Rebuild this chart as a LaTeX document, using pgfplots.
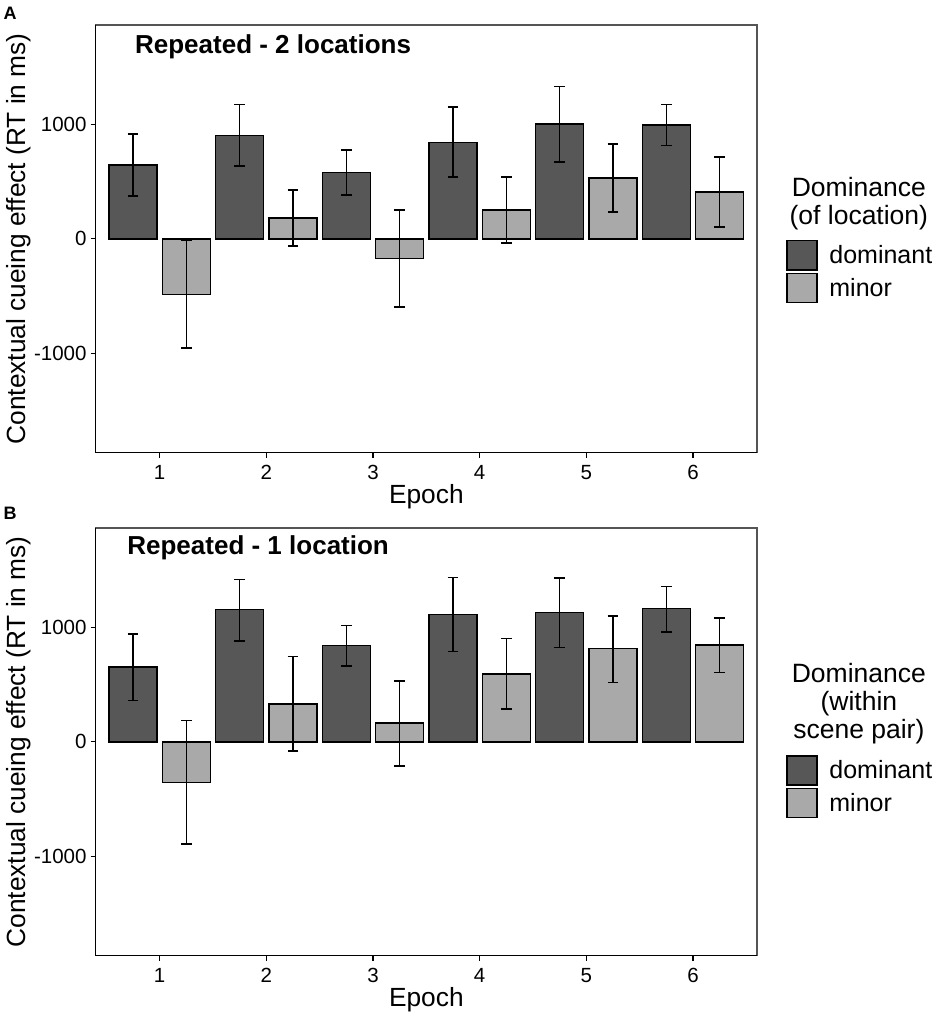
\documentclass[border=0pt]{standalone}
\usepackage{pgfplots}
\pgfplotsset{compat=1.18}
\usepackage{pgfplotstable}
\usepackage{fontspec}
\setmainfont{Liberation Sans}
\definecolor{dom}{HTML}{575757}
\definecolor{mnr}{HTML}{A9A9A9}
\definecolor{framec}{HTML}{555555}

% epoch, mean, error plus, error minus
\pgfplotstableread{
x y ep em
1 647 268 274
2 904 271 268
3 580 196 195
4 845 310 306
5 1003 329 330
6 997 178 181
}\Adom
\pgfplotstableread{
x y ep em
1 -487 475 466
2 184 245 248
3 -172 426 423
4 251 291 286
5 531 297 298
6 408 309 306
}\Amin
\pgfplotstableread{
x y ep em
1 653 288 291
2 1156 265 274
3 841 177 176
4 1115 320 324
5 1129 303 303
6 1165 194 203
}\Bdom
\pgfplotstableread{
x y ep em
1 -353 538 541
2 332 415 414
3 165 367 377
4 594 309 306
5 815 285 294
6 847 238 241
}\Bmin

\tikzset{
  ltitle/.style={anchor=base, inner sep=0pt, font=\fontsize{26.5}{26.5}\selectfont},
  ptitle/.style={anchor=base west, inner sep=0pt, font=\bfseries\fontsize{26}{26}\selectfont},
}

\pgfplotsset{
  every error bar/.append style={line width=1.5pt, black},
  panel/.style={
    width=661.3pt, height=427.7pt, scale only axis,
    anchor=south west,
    xmin=0.4, xmax=6.6, ymin=-1870, ymax=1870,
    enlargelimits=false, clip=false,
    xtick={1,2,3,4,5,6}, xticklabels={1,2,3,4,5,6},
    ytick={-1000,0,1000}, yticklabels={-1000,0,1000},
    tick pos=left, tick align=outside, major tick length=5pt,
    tick style={black, line width=1.2pt},
    axis line style={framec, line width=1.2pt},
    ticklabel style={font=\fontsize{20.5}{20.5}\selectfont, text=black},
    xticklabel style={inner sep=0pt, anchor=north, yshift=-7pt},
    yticklabel style={inner sep=0pt, anchor=east, xshift=-4pt},
    xlabel={Epoch}, ylabel={Contextual cueing effect (RT in ms)},
    every axis x label/.style={at={(axis description cs:0.5,-0.1183)}, anchor=base, inner sep=0pt, font=\fontsize{26.3}{26.3}\selectfont},
    every axis y label/.style={at={(axis description cs:-0.1066,0.5)}, rotate=90, anchor=base, inner sep=0pt, font=\fontsize{26.3}{26.3}\selectfont},
    ybar, bar width=0.45,
    legend cell align=left,
    legend style={anchor=north west, draw=none, fill=none, inner sep=0pt, outer sep=0pt,
      row sep=1.8pt, column sep=11.9pt, font=\fontsize{25}{25}\selectfont,
      nodes={inner sep=0pt}},
    after end axis/.code={\draw[black, line width=1.2pt] (rel axis cs:0,1) -- (rel axis cs:0,0) -- (rel axis cs:1,0);},
  },
  barstyle/.style={draw=black, line width=1.4pt,
    error bars/y dir=both, error bars/y explicit,
    error bars/error bar style={black, line width=1.5pt},
    error bars/error mark options={rotate=90, black, mark size=5.3pt, line width=1.5pt}},
  domkey/.style={legend image code/.code={\draw[fill=dom, draw=black, line width=1.4pt] (0pt,-14.65pt) rectangle (30pt,14.65pt);}},
  minkey/.style={legend image code/.code={\draw[fill=mnr, draw=black, line width=1.4pt] (0pt,-14.65pt) rectangle (30pt,14.65pt);}},
}

\begin{document}
\begin{tikzpicture}
\useasboundingbox (-95.7pt,-564.3pt) rectangle (840.3pt,452.7pt);

% Panel A
\begin{axis}[panel, at={(0pt,0pt)},
  legend style={at={(axis description cs:1.0440,0.4971)}}]
\addplot[barstyle, fill=dom, bar shift=-0.25, domkey]
  table[x=x, y=y, y error plus=ep, y error minus=em] {\Adom};
\addlegendentry{dominant}
\addplot[barstyle, fill=mnr, bar shift=0.25, minkey]
  table[x=x, y=y, y error plus=ep, y error minus=em] {\Amin};
\addlegendentry{minor}
\node[ptitle] at (axis description cs:0.0593,0.9338) {Repeated - 2 locations};
\node[ltitle] at (axis description cs:1.1540,0.5995) {Dominance};
\node[ltitle] at (axis description cs:1.1540,0.5340) {(of location)};
\end{axis}

% Panel B
\begin{axis}[panel, at={(0pt,-503pt)},
  legend style={at={(axis description cs:1.0440,0.4690)}}]
\addplot[barstyle, fill=dom, bar shift=-0.25, domkey]
  table[x=x, y=y, y error plus=ep, y error minus=em] {\Bdom};
\addlegendentry{dominant}
\addplot[barstyle, fill=mnr, bar shift=0.25, minkey]
  table[x=x, y=y, y error plus=ep, y error minus=em] {\Bmin};
\addlegendentry{minor}
\node[ptitle] at (axis description cs:0.0476,0.9369) {Repeated - 1 location};
\node[ltitle] at (axis description cs:1.1540,0.6383) {Dominance};
\node[ltitle] at (axis description cs:1.1540,0.5728) {(within};
\node[ltitle] at (axis description cs:1.1540,0.5074) {scene pair)};
\end{axis}

% panel letters
\node[anchor=base west, inner sep=0pt, font=\bfseries\fontsize{18}{18}\selectfont] at (-92.2pt,433.4pt) {A};
\node[anchor=base west, inner sep=0pt, font=\bfseries\fontsize{18}{18}\selectfont] at (-92.2pt,-66.6pt) {B};
\end{tikzpicture}
\end{document}
